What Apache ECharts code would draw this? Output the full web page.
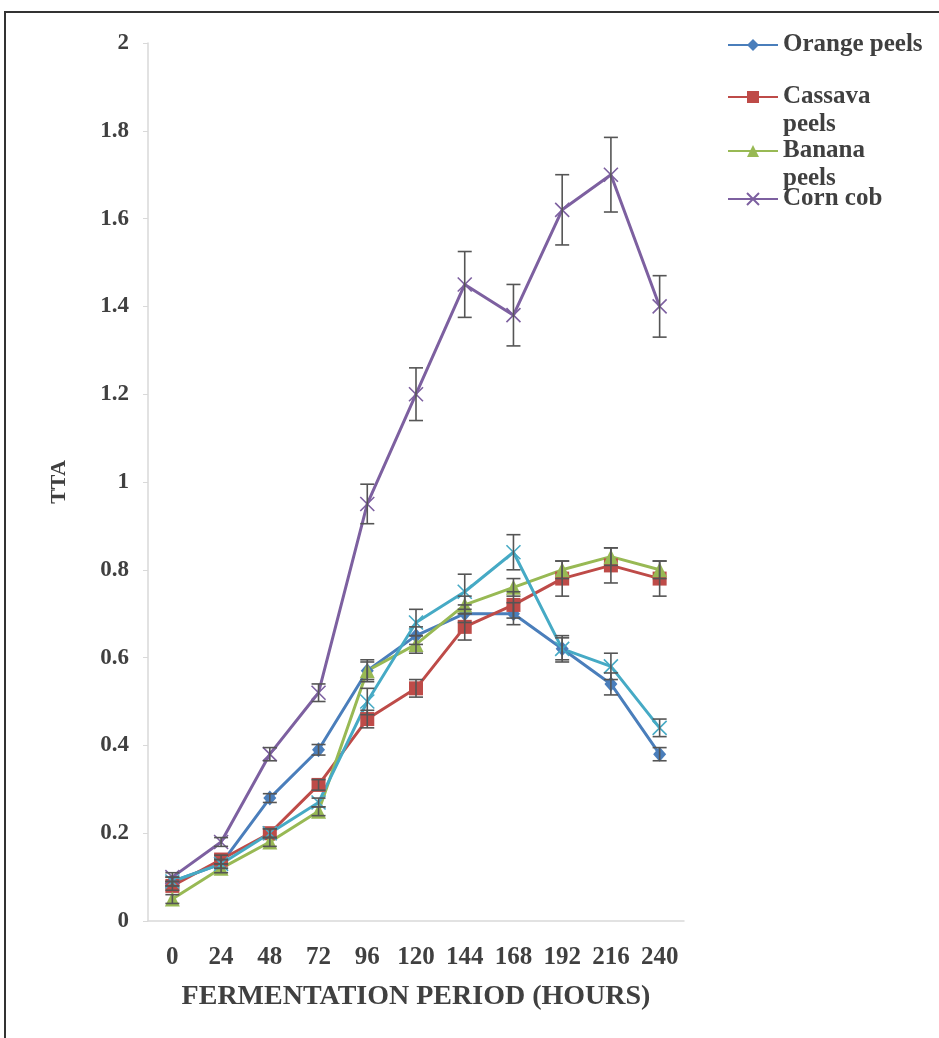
<!DOCTYPE html>
<html>
<head>
<meta charset="utf-8">
<script src="https://cdn.jsdelivr.net/npm/echarts@6/dist/echarts.min.js"></script>
<style>
html,body{margin:0;padding:0;background:#fff;}
#chart{width:939px;height:1038px;}
</style>
</head>
<body>
<div id="chart"></div>
<script>
// ---- data ----
var hours = ['0','24','48','72','96','120','144','168','192','216','240'];
var yTicks = [0,0.2,0.4,0.6,0.8,1,1.2,1.4,1.6,1.8,2];

var orangePeels = [0.09,0.13,0.28,0.39,0.57,0.65,0.70,0.70,0.62,0.54,0.38];
var orangeErr   = [0.01,0.01,0.01,0.012,0.02,0.02,0.02,0.025,0.025,0.025,0.015];

var cassavaPeels = [0.08,0.14,0.20,0.31,0.46,0.53,0.67,0.72,0.78,0.81,0.78];
var cassavaErr   = [0.01,0.01,0.01,0.012,0.02,0.02,0.03,0.03,0.04,0.04,0.04];

var bananaPeels = [0.05,0.12,0.18,0.25,0.57,0.63,0.72,0.76,0.80,0.83,0.80];
var bananaErr   = [0.01,0.01,0.01,0.01,0.025,0.02,0.02,0.02,0.02,0.02,0.02];

var cornCob = [0.10,0.18,0.38,0.52,0.95,1.20,1.45,1.38,1.62,1.70,1.40];
var cornErr = [0.01,0.01,0.015,0.02,0.045,0.06,0.075,0.07,0.08,0.085,0.07];

var fifthSeries = [0.09,0.13,0.20,0.27,0.50,0.68,0.75,0.84,0.62,0.58,0.44];
var fifthErr    = [0.01,0.01,0.01,0.01,0.03,0.03,0.04,0.04,0.03,0.03,0.02];

var legendNames = ['Orange peels','Cassava peels','Banana peels','Corn cob'];
// ---- end data ----

var FONT = '"Liberation Serif","DejaVu Serif",serif';
var chart = echarts.init(document.getElementById('chart'));

var crossPath = 'path://M0,0L10,10M10,0L0,10';

function lineSeries(name, data, color, symbol, size){
  return {
    name: name, type: 'line', data: data,
    symbol: symbol, symbolSize: size,
    lineStyle: {color: color, width: 3},
    itemStyle: {color: color, borderColor: color, borderWidth: symbol === crossPath ? 1.6 : 0},
    z: 3, animation: false
  };
}

function errSeries(vals, errs){
  var d = vals.map(function(v,i){ return [i, v - errs[i], v + errs[i]]; });
  return {
    type: 'custom', data: d, z: 5, animation: false, silent: true,
    renderItem: function(params, api){
      var lo = api.coord([api.value(0), api.value(1)]);
      var hi = api.coord([api.value(0), api.value(2)]);
      var w = 7;
      var st = {stroke: '#555', lineWidth: 1.6};
      return {type: 'group', children: [
        {type: 'line', shape: {x1: lo[0], y1: lo[1], x2: hi[0], y2: hi[1]}, style: st},
        {type: 'line', shape: {x1: lo[0]-w, y1: lo[1], x2: lo[0]+w, y2: lo[1]}, style: st},
        {type: 'line', shape: {x1: hi[0]-w, y1: hi[1], x2: hi[0]+w, y2: hi[1]}, style: st}
      ]};
    }
  };
}

var legendText = {fontFamily: FONT, fontWeight: 'bold', fontSize: 25, color: '#404040', lineHeight: 28};
function legendAt(name, top, label){
  return {
    data: [name], left: 727, top: top, orient: 'vertical', padding: 0,
    itemWidth: 50, itemHeight: 15, itemGap: 0, selectedMode: false,
    textStyle: legendText,
    formatter: function(){ return label; }
  };
}

var option = {
  backgroundColor: '#fff',
  animation: false,
  graphic: [{
    type: 'rect', shape: {x: 5, y: 12, width: 1000, height: 1100},
    style: {fill: 'none', stroke: '#333', lineWidth: 2}, silent: true
  }],
  legend: [
    legendAt(legendNames[0], 45 - 14, 'Orange peels'),
    legendAt(legendNames[1], 97 - 42, '\nCassava\npeels'),
    legendAt(legendNames[2], 151 - 42, '\nBanana\npeels'),
    legendAt(legendNames[3], 199 - 14, 'Corn cob')
  ],
  grid: {left: 148, right: 255, top: 43, bottom: 117, containLabel: false},
  xAxis: {
    type: 'category', data: hours, boundaryGap: true,
    name: 'FERMENTATION PERIOD (HOURS)', nameLocation: 'middle', nameGap: 62,
    nameTextStyle: {fontFamily: FONT, fontWeight: 'bold', fontSize: 28, color: '#404040'},
    axisLine: {lineStyle: {color: '#d9d9d9', width: 1.5}},
    axisTick: {show: false},
    axisLabel: {fontFamily: FONT, fontWeight: 'bold', fontSize: 25, color: '#404040', margin: 24, interval: 0}
  },
  yAxis: {
    type: 'value', min: 0, max: 2, interval: 0.2,
    name: 'TTA', nameLocation: 'middle', nameGap: 78, nameRotate: 90,
    nameTextStyle: {fontFamily: FONT, fontWeight: 'bold', fontSize: 22, color: '#404040'},
    axisLine: {show: true, lineStyle: {color: '#d9d9d9', width: 1.5}},
    axisTick: {show: true, length: 5, lineStyle: {color: '#d9d9d9'}},
    splitLine: {show: false},
    axisLabel: {fontFamily: FONT, fontWeight: 'bold', fontSize: 23, color: '#404040', margin: 19,
      formatter: function(v){ return String(Math.round(v*10)/10); }}
  },
  series: [
    lineSeries(legendNames[0], orangePeels, '#4A7EBB', 'diamond', [13,15]),
    lineSeries(legendNames[1], cassavaPeels, '#BE4B48', 'rect', 14),
    lineSeries(legendNames[2], bananaPeels, '#98B954', 'triangle', 15),
    lineSeries(legendNames[3], cornCob, '#7D60A0', crossPath, 14),
    lineSeries('Series 5', fifthSeries, '#46AAC5', crossPath, 14),
    errSeries(orangePeels, orangeErr),
    errSeries(cassavaPeels, cassavaErr),
    errSeries(bananaPeels, bananaErr),
    errSeries(cornCob, cornErr),
    errSeries(fifthSeries, fifthErr)
  ]
};
chart.setOption(option);
</script>
</body>
</html>
